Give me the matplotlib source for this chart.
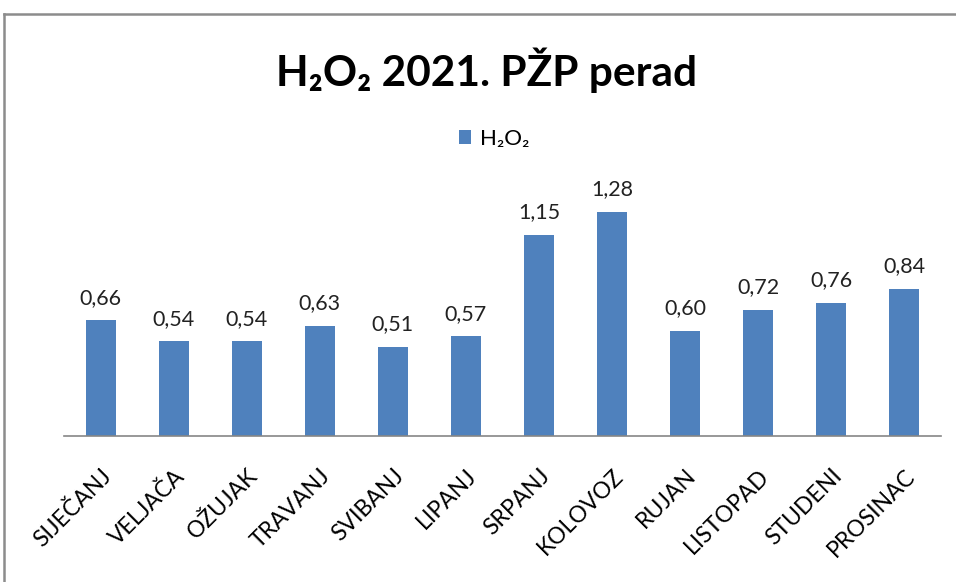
import matplotlib.pyplot as plt
from matplotlib.lines import Line2D

months = ['SIJEČANJ', 'VELJAČA', 'OŽUJAK', 'TRAVANJ', 'SVIBANJ', 'LIPANJ',
          'SRPANJ', 'KOLOVOZ', 'RUJAN', 'LISTOPAD', 'STUDENI', 'PROSINAC']
h2o2 = [0.66, 0.54, 0.54, 0.63, 0.51, 0.57, 1.15, 1.28, 0.60, 0.72, 0.76, 0.84]

plt.rcParams['font.family'] = ['Lato', 'Noto Sans', 'DejaVu Sans']

fig = plt.figure(figsize=(9.56, 5.82), dpi=100)
# chart border: only top and left edges are visible in the crop
bx, by = 4 / 956, 1 - 14 / 582
fig.add_artist(Line2D([bx, 1.0], [by, by], transform=fig.transFigure,
                      color='#8c8c8c', linewidth=1.8))
fig.add_artist(Line2D([bx, bx], [0.0, by], transform=fig.transFigure,
                      color='#8c8c8c', linewidth=1.8))

ax = fig.add_axes([64 / 956, 1 - 436 / 582, 877 / 956, 245 / 582])
x = range(len(months))
bars = ax.bar(x, h2o2, width=0.41, color='#4F81BD', label='H₂O₂')
ax.set_xlim(-0.5, len(months) - 0.5)
ax.set_ylim(0, 1.4)

for b, v in zip(bars, h2o2):
    ax.annotate(f'{v:.2f}'.replace('.', ','), (b.get_x() + b.get_width() / 2, v),
                xytext=(0, 9), textcoords='offset points', ha='center', va='bottom',
                fontsize=15.5, color='#222222')

for s in ['top', 'right', 'left']:
    ax.spines[s].set_visible(False)
ax.spines['bottom'].set_color('#868686')
ax.spines['bottom'].set_linewidth(1.2)
ax.set_yticks([])
ax.set_xticks(list(x))
ax.set_xticklabels(months, rotation=45, ha='right', rotation_mode='anchor', fontsize=16.5)
ax.tick_params(axis='x', length=0, pad=21)

fig.text(487 / 956, 1 - 70 / 582, 'H₂O₂ 2021. PŽP perad', ha='center', va='center',
         fontsize=30.5, fontweight='bold')
fig.legend(handles=[bars], labels=['H₂O₂'], loc='center', bbox_to_anchor=(494 / 956, 1 - 139 / 582),
           frameon=False, fontsize=16, handlelength=0.55, handleheight=0.55, handletextpad=0.4)

fig.savefig('out.png', dpi=100, facecolor='white')
